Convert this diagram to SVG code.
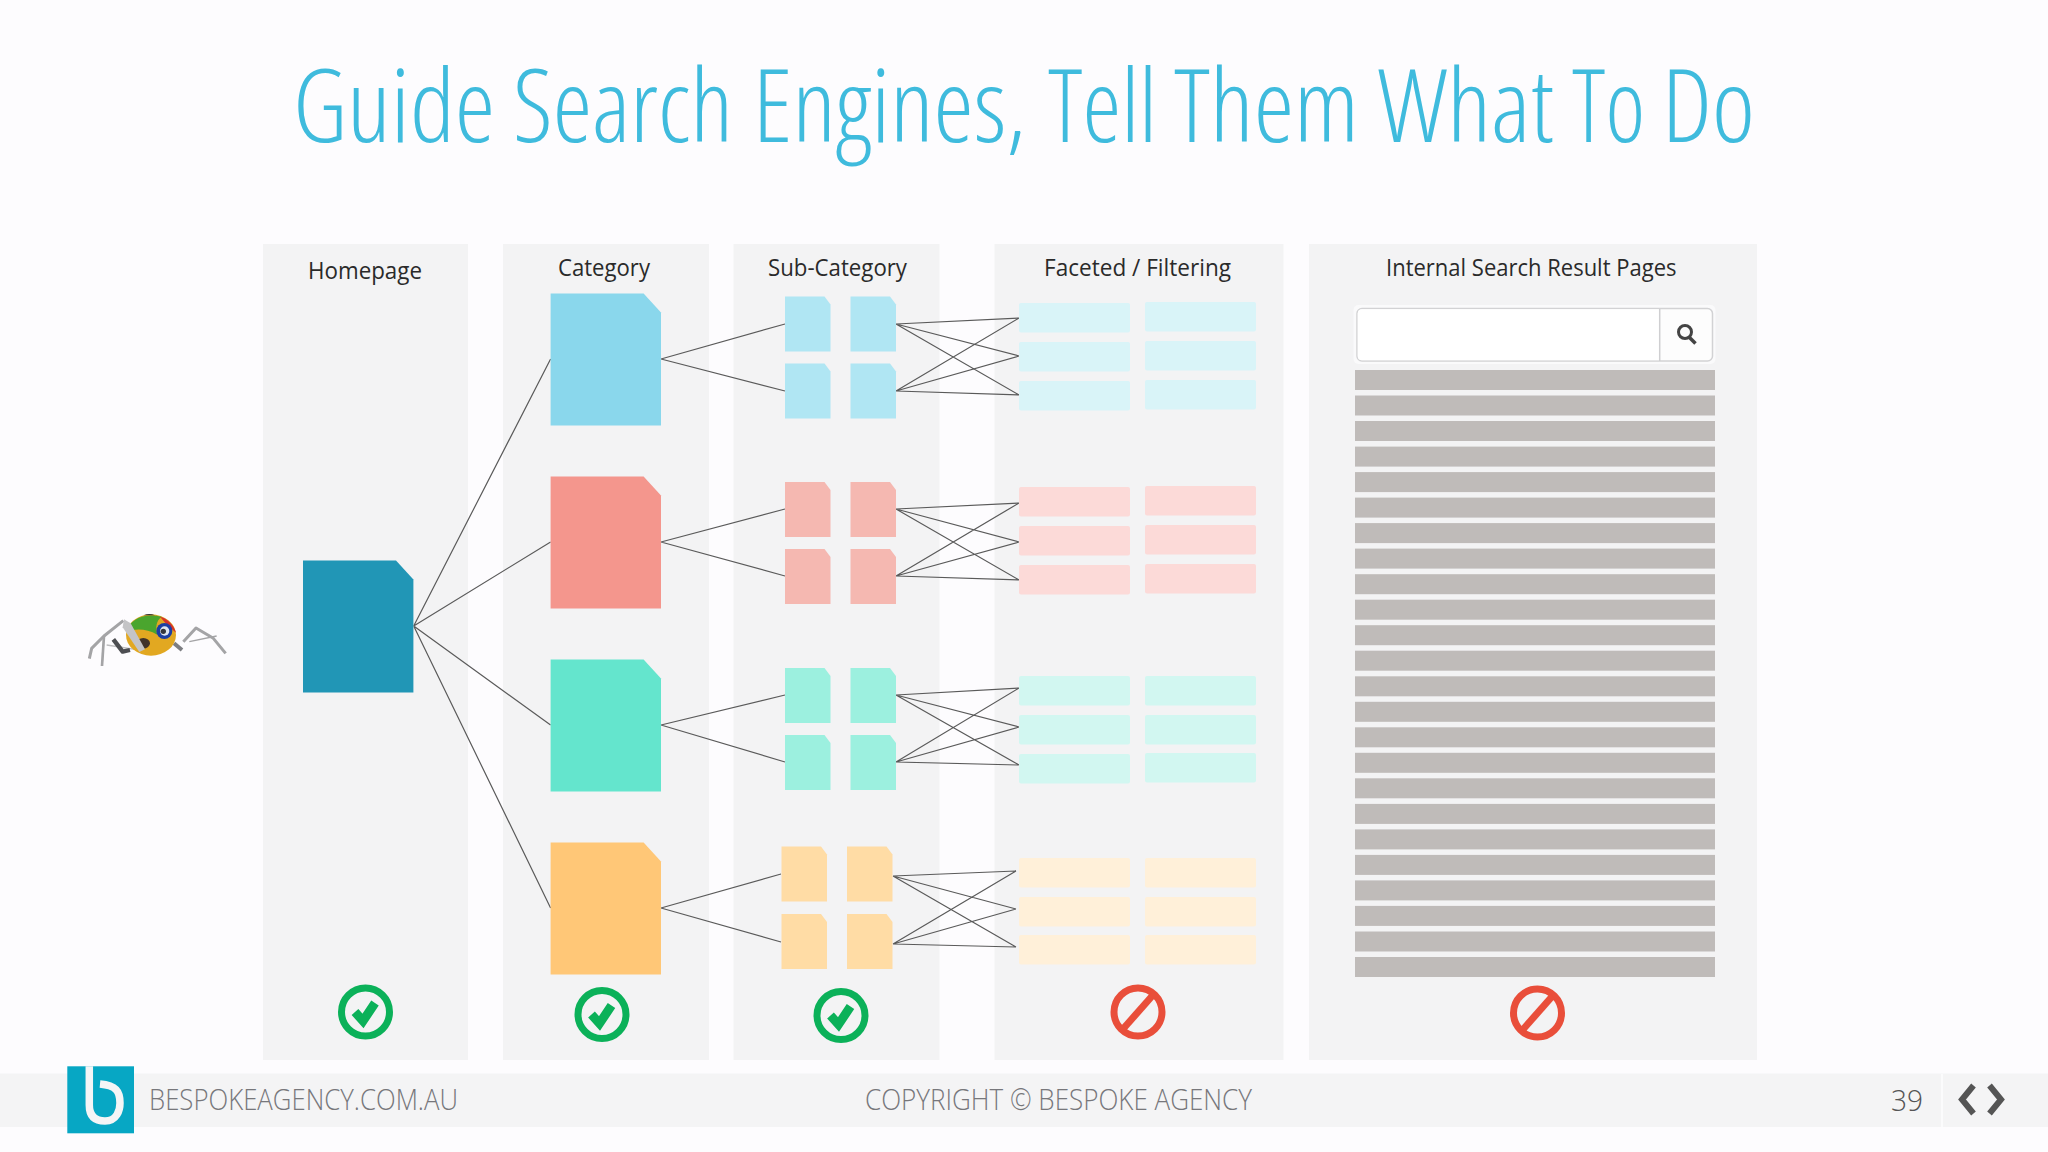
<svg xmlns="http://www.w3.org/2000/svg" xmlns:xlink="http://www.w3.org/1999/xlink" width="2048" height="1152" viewBox="0 0 2048 1152">
<style>
text{font-family:"Open Sans","Liberation Sans",sans-serif}
.panel{fill:#f3f3f4}
.title{font-size:101px;font-weight:300;font-stretch:75%;fill:#3fbbdd}
.label{font-size:23.5px;fill:#2a2a2a}
.foot{font-size:29px;font-weight:300;fill:#77777b}
.num{font-size:29px;font-weight:300;fill:#555}
.link{fill:none;stroke:#5a5a5a;stroke-width:1.2}
.bar{fill:#bfbbb9}
.fb{fill:#d9f4f8}.fr{fill:#fcdad8}.ft{fill:#d2f7f1}.fo{fill:#fff0d9}
</style>
<defs>
<path id="doc-l" d="M0 0H93L110.4 19V132H0Z"/>
<path id="doc-s" d="M0 0H39.5L45.5 8V55H0Z"/>
<rect id="facet" width="111" height="29.5" rx="2"/>
<rect id="b" x="1355" width="360" height="20" class="bar"/>
<g id="ok" fill="none" stroke="#0bb159">
<circle r="24" stroke-width="7"/>
<path d="M-10.5 0L-2.5 9L9.5 -9" stroke-width="9"/>
</g>
<g id="no" fill="none" stroke="#e94e3a">
<circle r="24" stroke-width="7"/>
<path d="M-15 17L15 -17" stroke-width="7"/>
</g>
</defs>
<rect width="2048" height="1152" fill="#fdfcfe"/>
<text class="title" y="142"><tspan x="293" textLength="202" lengthAdjust="spacingAndGlyphs">Guide</tspan> <tspan x="513" textLength="220" lengthAdjust="spacingAndGlyphs">Search</tspan> <tspan x="753" textLength="273" lengthAdjust="spacingAndGlyphs">Engines,</tspan> <tspan x="1048" textLength="109" lengthAdjust="spacingAndGlyphs">Tell</tspan> <tspan x="1174" textLength="185" lengthAdjust="spacingAndGlyphs">Them</tspan> <tspan x="1378" textLength="176" lengthAdjust="spacingAndGlyphs">What</tspan> <tspan x="1572" textLength="73" lengthAdjust="spacingAndGlyphs">To</tspan> <tspan x="1662" textLength="93" lengthAdjust="spacingAndGlyphs">Do</tspan></text>
<g id="panels">
<rect class="panel" x="263" y="244" width="205" height="816"/>
<rect class="panel" x="503" y="244" width="206" height="816"/>
<rect class="panel" x="733.5" y="244" width="206" height="816"/>
<rect class="panel" x="994.5" y="244" width="289" height="816"/>
<rect class="panel" x="1309" y="244" width="448" height="816"/>
</g>
<g id="labels">
<text class="label" x="308" y="279" textLength="114" lengthAdjust="spacingAndGlyphs">Homepage</text>
<text class="label" x="558" y="276" textLength="92" lengthAdjust="spacingAndGlyphs">Category</text>
<text class="label" x="768" y="276" textLength="139" lengthAdjust="spacingAndGlyphs">Sub-Category</text>
<text class="label" x="1044" y="276" textLength="187" lengthAdjust="spacingAndGlyphs">Faceted / Filtering</text>
<text class="label" x="1386" y="276" textLength="290.5" lengthAdjust="spacingAndGlyphs">Internal Search Result Pages</text>
</g>
<g id="spider" transform="translate(80 600) scale(.3333)">
<g fill="none" stroke="#a4a4a6" stroke-linejoin="round" stroke-width="9">
<path d="M130 62L72 108L35 145L28 176"/>
<path d="M72 108L66 198" stroke-width="8"/>
<path d="M80 135L190 152" stroke-width="4" stroke="#bdbdbf"/>
<path d="M100 118L128 155L150 150" stroke="#4d4e52" stroke-width="13"/>
<path d="M282 130L306 150" stroke="#7d7e82" stroke-width="12"/>
<path d="M310 125L348 84L400 115L437 160"/>
<path d="M328 125L410 108" stroke-width="4"/>
</g>
<ellipse cx="213" cy="105" rx="75" ry="62" fill="#e2a821"/>
<path d="M140 95C150 55 195 38 245 50C228 62 226 85 232 104C200 85 165 85 140 95Z" fill="#4aa52e"/>
<path d="M190 46Q208 38 225 46Z" fill="#333"/>
<path d="M240 50C262 55 282 75 288 98L262 76Z" fill="#d6322b"/>
<ellipse cx="190" cy="130" rx="20" ry="16" fill="#40332a"/>
<circle cx="253" cy="93" r="24" fill="#1c3fa3"/>
<circle cx="254" cy="93" r="14" fill="#dfe6f0"/>
<circle cx="250" cy="94" r="8" fill="#33363d"/>
<path d="M132 58L152 70L195 148L178 156L128 82Z" fill="#c4c4c6"/>
</g>
<g id="connectors" class="link">
<path d="M413.7 626L550.6 359M413.7 626L550.6 542M413.7 626L550.6 725M413.7 626L550.6 908"/>
<path d="M661 359L785 324M661 359L785 391M661 542L785 509M661 542L785 576M661 725L785 695M661 725L785 762M661 908L781 874M661 908L781 942"/>
<path d="M896 324L1019 318M896 324L1019 356M896 324L1019 395M896 391L1019 318M896 391L1019 356M896 391L1019 395"/>
<path d="M896 509L1019 503M896 509L1019 542M896 509L1019 580M896 576L1019 503M896 576L1019 542M896 576L1019 580"/>
<path d="M896 695L1019 688M896 695L1019 727M896 695L1019 765M896 762L1019 688M896 762L1019 727M896 762L1019 765"/>
<path d="M893 876L1016 871M893 876L1016 909M893 876L1016 947M893 944L1016 871M893 944L1016 909M893 944L1016 947"/>
</g>
<g id="homepage"><use xlink:href="#doc-l" x="303" y="560.5" fill="#2196b6"/></g>
<g id="category-blue"><use xlink:href="#doc-l" x="550.6" y="293.5" fill="#8ad7ec"/></g>
<g id="category-red"><use xlink:href="#doc-l" x="550.6" y="476.5" fill="#f4968d"/></g>
<g id="category-teal"><use xlink:href="#doc-l" x="550.6" y="659.5" fill="#64e5cd"/></g>
<g id="category-orange"><use xlink:href="#doc-l" x="550.6" y="842.5" fill="#ffc777"/></g>
<g id="sub-blue" fill="#b0e6f3"><use xlink:href="#doc-s" x="785" y="296.5"/><use xlink:href="#doc-s" x="850.5" y="296.5"/><use xlink:href="#doc-s" x="785" y="363.5"/><use xlink:href="#doc-s" x="850.5" y="363.5"/></g>
<g id="sub-red" fill="#f5b8b1"><use xlink:href="#doc-s" x="785" y="482"/><use xlink:href="#doc-s" x="850.5" y="482"/><use xlink:href="#doc-s" x="785" y="549"/><use xlink:href="#doc-s" x="850.5" y="549"/></g>
<g id="sub-teal" fill="#9cf0df"><use xlink:href="#doc-s" x="785" y="668"/><use xlink:href="#doc-s" x="850.5" y="668"/><use xlink:href="#doc-s" x="785" y="735"/><use xlink:href="#doc-s" x="850.5" y="735"/></g>
<g id="sub-orange" fill="#ffdca5"><use xlink:href="#doc-s" x="781.5" y="846.5"/><use xlink:href="#doc-s" x="847" y="846.5"/><use xlink:href="#doc-s" x="781.5" y="914"/><use xlink:href="#doc-s" x="847" y="914"/></g>
<g id="facet-blue" class="fb"><use xlink:href="#facet" x="1019" y="303"/><use xlink:href="#facet" x="1145" y="302"/><use xlink:href="#facet" x="1019" y="342"/><use xlink:href="#facet" x="1145" y="341"/><use xlink:href="#facet" x="1019" y="381"/><use xlink:href="#facet" x="1145" y="380"/></g>
<g id="facet-red" class="fr"><use xlink:href="#facet" x="1019" y="487"/><use xlink:href="#facet" x="1145" y="486"/><use xlink:href="#facet" x="1019" y="526"/><use xlink:href="#facet" x="1145" y="525"/><use xlink:href="#facet" x="1019" y="565"/><use xlink:href="#facet" x="1145" y="564"/></g>
<g id="facet-teal" class="ft"><use xlink:href="#facet" x="1019" y="676"/><use xlink:href="#facet" x="1145" y="676"/><use xlink:href="#facet" x="1019" y="715"/><use xlink:href="#facet" x="1145" y="715"/><use xlink:href="#facet" x="1019" y="754"/><use xlink:href="#facet" x="1145" y="753"/></g>
<g id="facet-orange" class="fo"><use xlink:href="#facet" x="1019" y="858"/><use xlink:href="#facet" x="1145" y="858"/><use xlink:href="#facet" x="1019" y="897"/><use xlink:href="#facet" x="1145" y="897"/><use xlink:href="#facet" x="1019" y="935"/><use xlink:href="#facet" x="1145" y="935"/></g>
<g id="search-box">
<rect x="1353.5" y="305" width="362" height="59" rx="5" fill="#fafafb"/>
<rect x="1357" y="308.5" width="355.5" height="52.5" rx="5" fill="#fdfdfd" stroke="#d2d2d4" stroke-width="1.5"/>
<path d="M1362 309.2H1659.7V360.3H1362Q1357.7 360.3 1357.7 356V313.5Q1357.7 309.2 1362 309.2Z" fill="#fff"/>
<path d="M1659.7 309V361" stroke="#cfcfd1" stroke-width="1.5"/>
<circle cx="1685" cy="332" r="6.5" fill="none" stroke="#444" stroke-width="3"/>
<path d="M1689.5 337.5L1695.5 343.5" stroke="#444" stroke-width="3.6"/>
</g>
<g id="result-bars">
<use xlink:href="#b" y="370"/><use xlink:href="#b" y="395.5"/><use xlink:href="#b" y="421"/><use xlink:href="#b" y="446.6"/><use xlink:href="#b" y="472.1"/><use xlink:href="#b" y="497.6"/><use xlink:href="#b" y="523.1"/><use xlink:href="#b" y="548.6"/><use xlink:href="#b" y="574.2"/><use xlink:href="#b" y="599.7"/><use xlink:href="#b" y="625.2"/><use xlink:href="#b" y="650.7"/><use xlink:href="#b" y="676.3"/><use xlink:href="#b" y="701.8"/><use xlink:href="#b" y="727.3"/><use xlink:href="#b" y="752.8"/><use xlink:href="#b" y="778.3"/><use xlink:href="#b" y="803.9"/><use xlink:href="#b" y="829.4"/><use xlink:href="#b" y="854.9"/><use xlink:href="#b" y="880.4"/><use xlink:href="#b" y="905.9"/><use xlink:href="#b" y="931.5"/><use xlink:href="#b" y="957"/>
</g>
<g id="status">
<use xlink:href="#ok" x="365.5" y="1012"/>
<use xlink:href="#ok" x="602" y="1014.5"/>
<use xlink:href="#ok" x="841" y="1015.5"/>
<use xlink:href="#no" x="1138" y="1012"/>
<use xlink:href="#no" x="1537.5" y="1013"/>
</g>
<g id="footer">
<rect y="1073.5" width="2048" height="53.5" fill="#f4f4f5"/>
<path d="M1942 1074V1127" stroke="#fbfbfc" stroke-width="2"/>
<rect x="67.3" y="1066.3" width="66.7" height="67" fill="#07a7c4"/>
<path d="M89.3 1066.3V1105Q89.3 1121 105 1121C117 1121 120 1110 120 1103C120 1091 116 1085.5 100 1084" fill="none" stroke="#f4f5f6" stroke-width="7.5"/>
<text class="foot" x="149" y="1110" textLength="309" lengthAdjust="spacingAndGlyphs">BESPOKEAGENCY.COM.AU</text>
<text class="foot" x="865" y="1110" textLength="387" lengthAdjust="spacingAndGlyphs">COPYRIGHT © BESPOKE AGENCY</text>
<text class="num" x="1891" y="1111" textLength="32" lengthAdjust="spacingAndGlyphs">39</text>
<path d="M1973.5 1085.5L1962 1099.5L1973.5 1113.5M1989.5 1085.5L2001 1099.5L1989.5 1113.5" fill="none" stroke="#555" stroke-width="6"/>
</g>
</svg>
